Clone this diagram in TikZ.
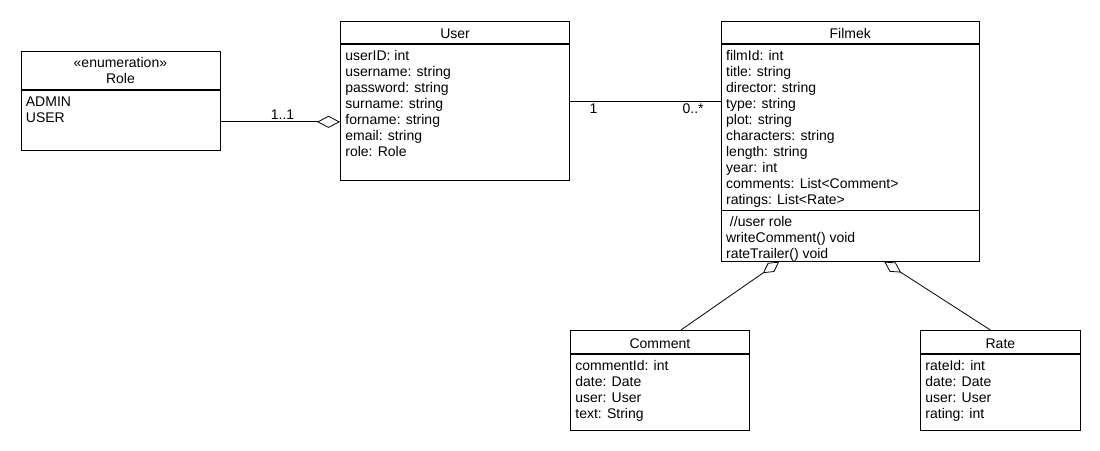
\documentclass[tikz,border=0pt]{standalone}
\usepackage{fontspec}
\setmainfont{Liberation Sans}
\usetikzlibrary{positioning}
\usetikzlibrary{arrows.meta}
\tikzset{box/.style={draw, inner sep=0pt},
         ttl/.style={box, text height=13pt, text depth=0pt},
         attr/.style={anchor=base west, inner sep=0pt},
         lbl/.style={inner sep=2pt},
         agg/.style 2 args={-{Diamond[open, length=#1, width=#2]}}}

\begin{document}
\begin{tikzpicture}[x=1pt, y=-1pt, line width=0.8pt, font=\fontsize{14}{16}\selectfont]
    \path[use as bounding box] (0, 0) rectangle (1100, 450);

    % Role
    \node[box, align=center, minimum width=199pt, minimum height=38.6pt, anchor=north west] at (20.5, 50.7) (Role) {«enumeration»\\Role};
    \node[box, minimum width=199pt, minimum height=59.7pt, below=0pt of Role] (RoleA) {};
    \foreach \t [count=\i] in {ADMIN, USER}
        \node[attr] (RoleA-\i) at ([xshift=5pt, yshift=-\i*16pt]RoleA.north west) {\t};

    % User
    \node[ttl, minimum width=229.3pt, minimum height=22pt, anchor=north west] at (340, 20.7) (User) {User};
    \node[box, minimum width=229.3pt, minimum height=136.3pt, below=0pt of User] (UserA) {};
    \foreach \t [count=\i] in {userID: int, username: string, password: string, surname: string, forname: string, email: string, role: Role}
        \node[attr] (UserA-\i) at ([xshift=5pt, yshift=-\i*16pt-0.6pt]UserA.north west) {\t};

    % Filmek
    \node[ttl, minimum width=258.3pt, minimum height=22.6pt, anchor=north west] at (720.7, 20.7) (Film) {Filmek};
    \node[box, minimum width=258.3pt, minimum height=165.4pt, below=0pt of Film] (FilmA) {};
    \node[box, minimum width=258.3pt, minimum height=50.6pt, below=0pt of FilmA] (FilmM) {};
    \foreach \t [count=\i] in {filmId: int, title: string, director: string, type: string, plot: string, characters: string, length: string, year: int, comments: List<Comment>, ratings: List<Rate>}
        \node[attr] (FilmA-\i) at ([xshift=5pt, yshift=-\i*16pt]FilmA.north west) {\t};
    \foreach \t [count=\i] in {\ //user role, writeComment() void, rateTrailer() void}
        \node[attr] (FilmM-\i) at ([xshift=5pt, yshift=-\i*16pt]FilmM.north west) {\t};

    % Comment
    \node[ttl, minimum width=179pt, minimum height=23.3pt, anchor=north west] at (570, 330) (Comm) {Comment};
    \node[box, minimum width=179pt, minimum height=75.7pt, below=0pt of Comm] (CommA) {};
    \foreach \t [count=\i] in {commentId: int, date: Date, user: User, text: String}
        \node[attr] (CommA-\i) at ([xshift=5pt, yshift=-\i*16pt]CommA.north west) {\t};

    % Rate
    \node[ttl, minimum width=160pt, minimum height=23.3pt, anchor=north west] at (920, 330) (Rate) {Rate};
    \node[box, minimum width=160pt, minimum height=75.7pt, below=0pt of Rate] (RateA) {};
    \foreach \t [count=\i] in {rateId: int, date: Date, user: User, rating: int}
        \node[attr] (RateA-\i) at ([xshift=5pt, yshift=-\i*16pt]RateA.north west) {\t};

    % associations
    \coordinate (RU) at ([yshift=-1.5pt]RoleA.east);
    \coordinate (UF) at ([yshift=10.85pt]UserA.east);
    \draw[agg={23pt}{12pt}] (RU) -- (RU -| UserA.west) node[lbl, above, pos=0.52] {1..1};
    \draw (UF) -- (UF -| FilmA.west) node[lbl, below, pos=0.155] {1} node[lbl, below, pos=0.817] {0..*};
    \draw[agg={20pt}{11pt}] ([xshift=21pt]Comm.north) -- ([xshift=-71pt]FilmM.south);
    \draw[agg={20pt}{11pt}] ([xshift=-10pt]Rate.north) -- ([xshift=34pt]FilmM.south);
\end{tikzpicture}
\end{document}
